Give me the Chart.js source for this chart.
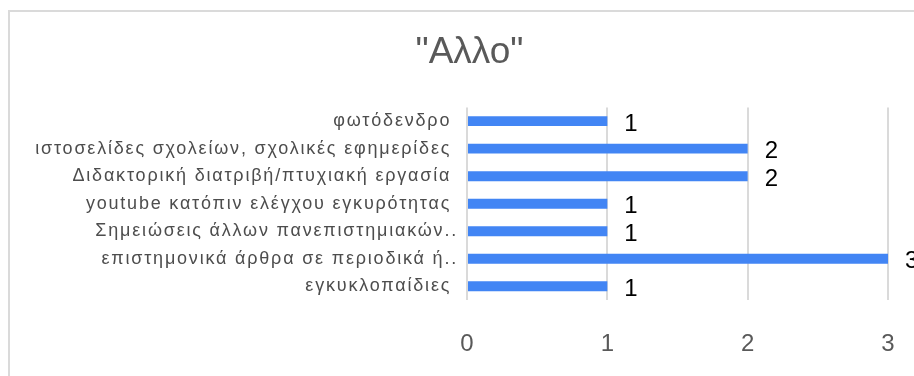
<!DOCTYPE html>
<html>
<head>
<meta charset="utf-8">
<script src="https://cdn.jsdelivr.net/npm/chart.js@4.4.1/dist/chart.umd.min.js"></script>
<style>
  html, body { margin: 0; padding: 0; background: #fff; overflow: hidden; }
  #frame { position: absolute; left: 8px; top: 10px; width: 1000px; height: 1000px; border: 2px solid #dadada; box-sizing: border-box; }
  #wrap { position: absolute; left: 0; top: 0; width: 914px; height: 376px; }
</style>
</head>
<body>
<div id="frame"></div>
<div id="wrap"><canvas id="chart"></canvas></div>
<script>
const categories = [
    'φωτόδενδρο ',
    'ιστοσελίδες σχολείων, σχολικές εφημερίδες ',
    'Διδακτορική διατριβή/πτυχιακή εργασία ',
    'youtube κατόπιν ελέγχου εγκυρότητας ',
    'Σημειώσεις άλλων πανεπιστημιακών..',
    'επιστημονικά άρθρα σε περιοδικά ή..',
    'εγκυκλοπαίδιες '
];
const counts = [1, 2, 2, 1, 1, 3, 1];
const xTicks = [0, 1, 2, 3];

const FONT = '"Liberation Sans", Arial, sans-serif';
const GREY = '#595959';

// value labels next to each bar, then widen letter spacing for the category labels
const barLabels = {
    id: 'barLabels',
    afterLayout(chart) {
        // the original title sits centred a little right of the canvas middle
        chart.titleBlock.left = 51;
    },
    afterDatasetsDraw(chart) {
        const ctx = chart.ctx;
        const meta = chart.getDatasetMeta(0);
        ctx.save();
        ctx.font = '24px ' + FONT;
        ctx.fillStyle = '#000';
        ctx.textAlign = 'left';
        ctx.textBaseline = 'middle';
        meta.data.forEach((bar, i) => {
            ctx.fillText(String(counts[i]), bar.x + 17, bar.y + 3);
        });
        ctx.restore();
        ctx.letterSpacing = '1.8px';
    },
    afterDraw(chart) {
        chart.ctx.letterSpacing = '0px';
    }
};

new Chart(document.getElementById('chart'), {
    type: 'bar',
    data: {
        labels: categories,
        datasets: [{
            data: counts,
            backgroundColor: '#4285f4',
            categoryPercentage: 1,
            barPercentage: 0.36
        }]
    },
    options: {
        indexAxis: 'y',
        responsive: true,
        maintainAspectRatio: false,
        animation: false,
        layout: {
            padding: { left: 0, right: 26, top: 0, bottom: 0 }
        },
        plugins: {
            legend: { display: false },
            tooltip: { enabled: false },
            title: {
                display: true,
                text: '"Αλλο"',
                color: GREY,
                font: { family: FONT, size: 37, weight: 'normal' },
                padding: { top: 31, bottom: 32 }
            }
        },
        scales: {
            x: {
                min: 0,
                max: 3,
                afterBuildTicks(scale) {
                    scale.ticks = xTicks.map(v => ({ value: v }));
                },
                afterFit(scale) {
                    scale.height = 76;
                    scale.paddingLeft = 0;
                    scale.paddingRight = 0;
                },
                grid: { color: '#dadada', lineWidth: 2, drawTicks: false },
                border: { display: false },
                ticks: {
                    color: GREY,
                    padding: 30,
                    font: { family: FONT, size: 24 }
                }
            },
            y: {
                afterFit(scale) {
                    scale.width = 467;
                },
                grid: { display: false, drawTicks: false },
                border: { display: false },
                ticks: {
                    z: 1,
                    color: '#4d4d4d',
                    padding: 9,
                    autoSkip: false,
                    font: { family: FONT, size: 18 }
                }
            }
        }
    },
    plugins: [barLabels]
});
</script>
</body>
</html>
